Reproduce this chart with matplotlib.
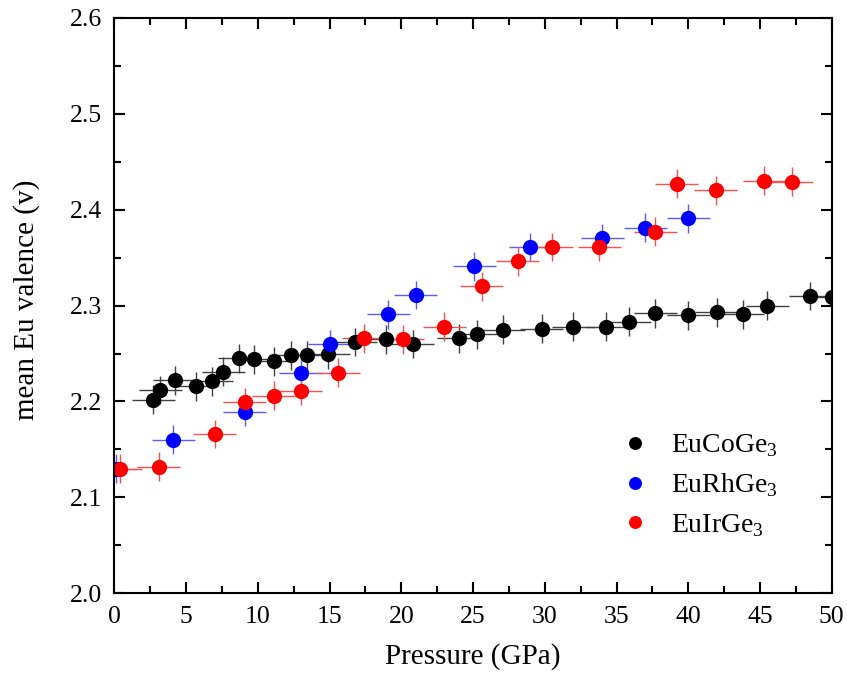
import matplotlib
matplotlib.use("Agg")
import matplotlib.pyplot as plt
from matplotlib.ticker import MultipleLocator, FormatStrFormatter

plt.rcParams["font.family"] = ["Liberation Serif", "DejaVu Serif"]
plt.rcParams["mathtext.fontset"] = "custom"
plt.rcParams["mathtext.rm"] = "Liberation Serif"

# EuCoGe3
co_p = [2.7, 3.2, 4.2, 5.7, 6.8, 7.6, 8.7, 9.7, 11.1, 12.3, 13.4, 14.9, 16.8, 18.9,
        20.8, 24.0, 25.3, 27.1, 29.8, 32.0, 34.3, 35.9, 37.7, 40.0, 42.0, 43.8,
        45.5, 48.5, 50.0]
co_v = [2.202, 2.212, 2.222, 2.216, 2.221, 2.231, 2.245, 2.244, 2.242, 2.248, 2.248,
        2.249, 2.262, 2.265, 2.260, 2.266, 2.270, 2.275, 2.276, 2.278, 2.278, 2.283,
        2.292, 2.290, 2.293, 2.291, 2.300, 2.310, 2.309]

# EuRhGe3
rh_p = [0.1, 4.1, 9.1, 13.0, 15.0, 19.1, 21.0, 25.1, 29.0, 34.0, 37.0, 40.0]
rh_v = [2.130, 2.160, 2.189, 2.230, 2.260, 2.291, 2.311, 2.341, 2.361, 2.370, 2.381, 2.391]

# EuIrGe3
ir_p = [0.4, 3.1, 7.0, 9.1, 11.1, 13.0, 15.6, 17.4, 20.1, 23.0, 25.6, 28.1,
        30.5, 33.8, 37.7, 39.2, 41.9, 45.3, 47.2]
ir_v = [2.130, 2.132, 2.166, 2.199, 2.206, 2.211, 2.230, 2.266, 2.265, 2.278,
        2.320, 2.346, 2.361, 2.361, 2.377, 2.427, 2.420, 2.430, 2.429]

p_err = 1.5
v_err = 0.015

fig = plt.figure(figsize=(8.47, 6.82), dpi=100)
ax = fig.add_axes([0.135, 0.130, 0.847, 0.844])

series = [
    (co_p, co_v, "black", "#404040", r"EuCoGe$_3$"),
    (rh_p, rh_v, "#0000ff", "#5a5aff", r"EuRhGe$_3$"),
    (ir_p, ir_v, "#ff0000", "#ff5050", r"EuIrGe$_3$"),
]
for p, v, col, ecol, lab in series:
    ax.errorbar(p, v, xerr=p_err, yerr=v_err, fmt="o", color=col, ecolor=ecol,
                elinewidth=1.0, capsize=4, capthick=1.0, markersize=11,
                markeredgewidth=0, label=lab)

ax.set_xlim(0, 50)
ax.set_ylim(2.0, 2.6)
ax.xaxis.set_major_locator(MultipleLocator(5))
ax.xaxis.set_minor_locator(MultipleLocator(2.5))
ax.yaxis.set_major_locator(MultipleLocator(0.1))
ax.yaxis.set_minor_locator(MultipleLocator(0.05))
ax.yaxis.set_major_formatter(FormatStrFormatter("%.1f"))
ax.tick_params(which="both", direction="in", top=True, right=True, width=1.5,
               labelsize=18.5, pad=9)
ax.tick_params(which="major", length=8)
ax.tick_params(which="minor", length=5)
for s in ax.spines.values():
    s.set_linewidth(1.5)

ax.set_xlabel("Pressure (GPa)", fontsize=21, labelpad=11)
ax.set_ylabel("mean Eu valence (v)", fontsize=21)
ax.yaxis.set_label_coords(-0.103, 0.51)

handles, labels = ax.get_legend_handles_labels()
handles = [h[0] for h in handles]
fig.legend(handles, labels, loc="upper left", bbox_to_anchor=(0.725, 0.366),
           frameon=False, fontsize=20, handletextpad=0.55, labelspacing=0.45,
           handlelength=1.5, markerscale=0.85, borderpad=0, borderaxespad=0)

fig.savefig("out.png", dpi=100)
